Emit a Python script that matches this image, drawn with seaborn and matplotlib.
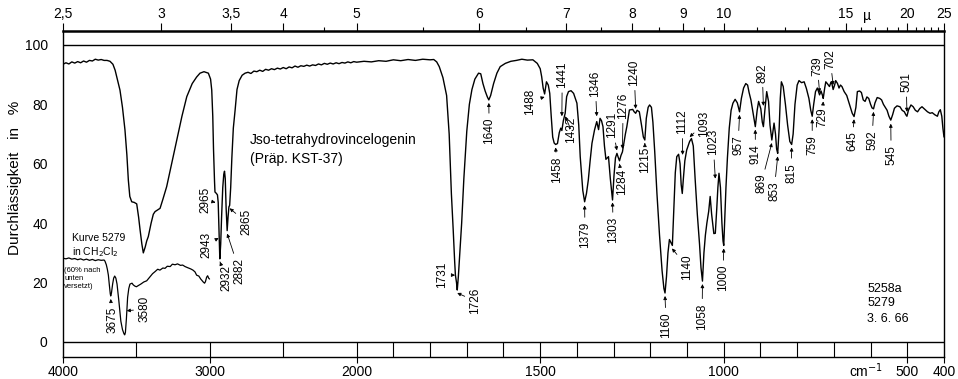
import numpy as np
import pandas as pd
import seaborn as sns
import matplotlib.pyplot as plt

# IR spectrum, wavenumber (cm-1) vs. transmission (%)
main_wn = [4000, 3980, 3960, 3940, 3920, 3900, 3880, 3860, 3840, 3820, 3800, 3780, 3760, 3740,
           3720, 3700, 3680, 3660, 3645, 3630, 3612, 3595, 3578, 3565, 3555, 3545, 3532, 3515,
           3498, 3485, 3475, 3463, 3453, 3440, 3430, 3419, 3400, 3385, 3373, 3355, 3339, 3320,
           3294, 3260, 3225, 3190, 3157, 3120, 3090, 3067, 3040, 3010, 2995, 2987, 2980, 2975,
           2968, 2965, 2955, 2948, 2943, 2938, 2932, 2926, 2920, 2912, 2905, 2900, 2895, 2889,
           2882, 2876, 2870, 2865, 2858, 2850, 2840, 2828, 2815, 2800, 2780, 2760, 2740, 2720,
           2700, 2680, 2660, 2640, 2620, 2600, 2580, 2560, 2540, 2520, 2500, 2480, 2460, 2440,
           2420, 2400, 2380, 2360, 2340, 2320, 2300, 2280, 2260, 2240, 2220, 2200, 2180, 2160,
           2140, 2120, 2100, 2080, 2060, 2040, 2020, 2000, 1980, 1960, 1940, 1920, 1900, 1880,
           1860, 1840, 1820, 1800, 1790, 1782, 1775, 1765, 1755, 1748, 1742, 1737, 1733, 1731,
           1728, 1726, 1723, 1719, 1714, 1708, 1700, 1693, 1686, 1678, 1668, 1662, 1656, 1650,
           1644, 1640, 1635, 1627, 1618, 1609, 1595, 1580, 1565, 1550, 1535, 1520, 1508, 1500,
           1496, 1492, 1488, 1483, 1478, 1474, 1470, 1466, 1462, 1458, 1453, 1448, 1444, 1441,
           1437, 1432, 1428, 1423, 1416, 1409, 1400, 1395, 1391, 1384, 1379, 1374, 1369, 1364,
           1359, 1352, 1346, 1341, 1337, 1333, 1329, 1325, 1321, 1314, 1309, 1303, 1299, 1295,
           1291, 1287, 1284, 1280, 1276, 1272, 1268, 1264, 1257, 1248, 1244, 1240, 1236, 1230,
           1224, 1219, 1215, 1211, 1206, 1202, 1197, 1193, 1188, 1182, 1175, 1168, 1163, 1160,
           1156, 1152, 1148, 1144, 1140, 1136, 1132, 1128, 1123, 1119, 1116, 1113, 1110, 1106,
           1101, 1097, 1093, 1088, 1083, 1078, 1072, 1066, 1062, 1058, 1054, 1050, 1046, 1041,
           1037, 1033, 1027, 1023, 1019, 1016, 1013, 1009, 1005, 1002, 1000, 997, 994, 990,
           985, 980, 975, 969, 963, 957, 952, 946, 940, 935, 931, 926, 920, 914, 909, 905,
           899, 895, 892, 888, 883, 878, 874, 869, 866, 863, 859, 856, 853, 849, 846, 843,
           838, 832, 826, 820, 815, 811, 806, 800, 795, 788, 781, 775, 768, 763, 759, 755,
           750, 745, 741, 739, 735, 731, 729, 725, 722, 718, 712, 708, 705, 702, 698, 695,
           690, 686, 682, 678, 672, 665, 660, 655, 650, 645, 640, 636, 630, 625, 620, 615,
           610, 605, 600, 596, 592, 588, 582, 575, 570, 565, 560, 555, 550, 545, 540, 535,
           528, 520, 514, 508, 504, 501, 497, 490, 484, 478, 472, 466, 460, 452, 445, 438,
           432, 425, 418, 414, 410, 406, 403, 400]
main_T = [93.5, 94.0, 93.6, 94.3, 93.9, 94.4, 94.0, 94.6, 94.2, 94.8, 94.6, 95.2, 94.9, 95.1,
          94.8, 94.8, 94.5, 93.5, 91.5, 88.5, 84.8, 79.0, 71.4, 63.0, 54.5, 49.0, 47.2, 47.0,
          46.5, 42.0, 37.7, 33.0, 30.0, 32.0, 34.0, 35.5, 40.0, 43.0, 43.9, 44.5, 45.0, 48.0,
          52.3, 60.0, 68.0, 76.0, 82.6, 87.0, 89.2, 90.5, 91.0, 90.5, 88.5, 84.8, 76.0, 65.0,
          54.0, 50.5, 50.0, 49.5, 47.0, 38.0, 28.0, 33.0, 42.0, 52.0, 56.5, 57.5, 55.0, 45.0,
          37.5, 42.0, 45.5, 46.0, 52.0, 62.0, 72.0, 78.0, 85.0, 88.0, 89.8, 90.5, 90.8, 90.4,
          91.2, 91.0, 91.5, 91.1, 91.8, 91.5, 92.0, 91.7, 92.2, 91.9, 92.4, 92.0, 92.6, 92.3,
          92.9, 92.5, 93.0, 92.8, 93.2, 92.9, 93.3, 93.1, 93.6, 93.3, 93.8, 93.5, 93.9, 93.6,
          94.0, 93.7, 94.1, 93.9, 94.3, 94.0, 94.4, 94.2, 94.5, 94.3, 94.7, 94.5, 95.0, 94.7,
          95.1, 94.8, 95.2, 95.0, 95.1, 94.3, 92.7, 89.0, 83.0, 70.0, 50.0, 37.7, 27.0, 22.5,
          20.0, 17.5, 22.0, 30.0, 40.0, 55.0, 71.0, 80.0, 85.0, 88.5, 90.5, 90.3, 87.0, 84.5,
          82.5, 81.5, 83.0, 87.0, 90.5, 92.7, 93.8, 94.5, 94.8, 95.2, 94.9, 95.0, 93.8, 92.0,
          89.3, 85.5, 83.5, 87.6, 86.5, 83.7, 76.0, 69.0, 67.0, 66.5, 66.8, 70.5, 72.0, 71.2,
          74.5, 77.0, 82.6, 84.3, 84.6, 83.7, 80.4, 73.0, 62.4, 51.0, 47.2, 50.0, 54.5, 61.0,
          66.9, 71.4, 74.2, 71.5, 75.3, 74.5, 72.5, 66.0, 61.5, 62.4, 55.0, 47.8, 56.0, 62.0,
          63.5, 62.0, 61.0, 62.8, 64.0, 67.0, 70.0, 72.5, 78.1, 78.3, 77.5, 77.0, 78.0, 77.5,
          73.0, 69.0, 68.0, 75.3, 79.0, 79.8, 79.0, 74.0, 64.0, 50.0, 36.0, 24.0, 18.0, 16.5,
          22.0, 30.0, 34.5, 33.5, 32.5, 45.0, 57.0, 62.4, 63.2, 60.0, 53.0, 50.0, 55.0, 61.0,
          64.6, 66.0, 67.5, 68.5, 66.0, 55.0, 43.0, 33.0, 25.0, 20.5, 30.0, 36.0, 40.0, 44.0,
          49.0, 43.0, 36.5, 36.6, 45.0, 52.0, 56.8, 52.0, 40.0, 34.0, 32.5, 42.0, 52.0, 62.0,
          72.0, 78.0, 80.4, 81.7, 80.5, 77.5, 82.0, 85.5, 87.0, 86.5, 84.0, 81.5, 77.0, 72.5,
          78.0, 81.0, 78.5, 74.0, 72.5, 78.0, 84.3, 81.0, 73.0, 68.0, 71.0, 73.7, 70.0, 65.0,
          63.5, 72.0, 82.0, 87.6, 86.0, 80.0, 73.0, 67.5, 66.5, 70.0, 80.0, 86.5, 88.0, 87.3,
          87.6, 85.4, 82.0, 78.0, 76.0, 80.0, 84.3, 85.5, 84.0, 83.2, 84.5, 83.0, 82.0, 85.5,
          87.6, 87.0, 86.0, 87.5, 86.8, 85.0, 86.5, 88.0, 87.0, 85.5, 86.5, 86.0, 84.3, 83.0,
          81.0, 79.0, 77.0, 75.9, 79.0, 84.3, 84.5, 84.0, 81.5, 81.0, 82.5, 82.0, 80.0, 78.8,
          78.5, 80.5, 82.3, 82.0, 81.5, 80.0, 79.0, 78.0, 76.0, 74.7, 76.5, 78.7, 79.5, 79.2,
          78.0, 77.5, 76.5, 76.0, 78.0, 79.8, 79.2, 78.0, 77.5, 78.6, 79.2, 78.3, 77.5, 77.0,
          77.2, 76.5, 76.0, 77.5, 78.2, 76.0, 72.0, 69.0]

# Kurve 5279 in CH2Cl2 (shifted down by 60 %)
ref_wn = [4000, 3980, 3960, 3940, 3920, 3900, 3880, 3860, 3840, 3820, 3800, 3780, 3760, 3740,
          3720, 3714, 3705, 3698, 3691, 3684, 3678, 3675, 3670, 3662, 3655, 3648, 3640, 3632,
          3620, 3606, 3595, 3585, 3580, 3575, 3568, 3560, 3552, 3544, 3530, 3521, 3510, 3500,
          3487, 3470, 3450, 3430, 3410, 3390, 3373, 3355, 3340, 3320, 3305, 3290, 3270, 3255,
          3237, 3220, 3200, 3185, 3169, 3150, 3130, 3115, 3101, 3090, 3075, 3062, 3055, 3045,
          3036, 3030, 3022, 3015, 3008, 3002]
ref_T = [28.2, 28.0, 28.3, 27.9, 28.1, 27.7, 28.0, 27.6, 27.9, 27.5, 27.8, 27.4, 27.7, 27.5,
         27.6, 27.2, 26.0, 24.5, 22.5, 19.0, 16.2, 15.5, 16.5, 19.5, 21.5, 22.2, 21.5, 19.5,
         14.0, 7.0, 4.2, 2.8, 2.4, 3.2, 8.0, 15.0, 18.0, 19.5, 19.8, 19.2, 18.8, 18.6,
         19.0, 19.5, 20.2, 20.6, 21.8, 23.0, 23.7, 24.5, 24.2, 24.9, 24.8, 25.5, 25.4, 26.2,
         26.0, 26.3, 25.8, 25.9, 25.4, 25.0, 24.6, 24.2, 23.6, 22.5, 22.2, 21.2, 20.8, 20.2,
         19.8, 20.3, 21.8, 22.3, 21.5, 21.2]

bottom_ticks = [4000, 3000, 2000, 1500, 1000, 500, 400]
divider_wn = [3500, 3000, 2500, 2000, 1900, 1800, 1700, 1600, 1500, 1400, 1300, 1200, 1100,
              1000, 900, 800, 700, 600, 500]
micron_major = [2.5, 3, 3.5, 4, 5, 6, 7, 8, 9, 10, 15, 20, 25]
micron_labels = ["2,5", "3", "3,5", "4", "5", "6", "7", "8", "9", "10", "15", "20", "25"]
micron_minor = [4.5, 5.5, 6.5, 7.5, 8.5, 9.5, 11, 12, 13, 14, 16, 17, 18, 19, 21, 22, 23, 24]
y_ticks = [0, 20, 40, 60, 80, 100]

# band labels and the point of the curve each one marks
peak_labels = ["3675", "3580", "2965", "2943", "2932", "2882", "2865", "1731", "1726", "1640",
               "1488", "1441", "1458", "1432", "1379", "1346", "1303", "1291", "1284", "1276",
               "1240", "1215", "1160", "1140", "1112", "1093", "1058", "1023", "1000", "957",
               "914", "892", "869", "853", "815", "759", "739", "729", "702", "645", "592",
               "545", "501"]
peak_wn = [3675, 3566, 2962, 2940, 2931, 2882, 2865, 1732, 1726, 1640,
           1488, 1441, 1458, 1432, 1379, 1346, 1303, 1291, 1284, 1276,
           1240, 1215, 1160, 1141, 1112, 1093, 1058, 1023, 1000, 957,
           914, 892, 869, 853, 815, 759, 739, 729, 702, 645, 592,
           545, 501]
peak_T = [14.5, 10.5, 47.0, 35.0, 27.0, 36.5, 45.0, 22.5, 16.5, 80.5,
          82.5, 76.0, 65.5, 76.0, 46.0, 76.0, 47.0, 64.5, 60.0, 65.0,
          78.5, 67.0, 15.5, 31.5, 63.0, 69.0, 19.5, 55.0, 31.5, 76.5,
          71.5, 79.5, 67.0, 62.5, 65.5, 75.0, 84.0, 81.0, 86.5, 75.0, 77.5,
          73.5, 77.5]

# where the rotated label texts sit (centre)
label_wn = [3666, 3448, 3033, 3025, 2890, 2798, 2753, 1767, 1677, 1639,
            1527, 1440, 1454, 1416, 1378, 1350, 1301, 1304, 1277, 1274,
            1244, 1214, 1157, 1100, 1113, 1053, 1059, 1029, 1002, 961,
            914, 895, 898, 863, 816, 759, 745, 732, 710, 650, 596,
            544, 503]
label_T = [7.5, 11.1, 47.8, 32.7, 21.5, 23.9, 40.4, 22.6, 13.8, 71.0,
           81.0, 89.9, 57.9, 71.4, 36.0, 87.0, 37.7, 73.0, 53.9, 79.6,
           90.7, 61.3, 5.7, 25.3, 74.2, 73.6, 8.6, 67.3, 21.5, 66.3,
           63.3, 90.6, 53.3, 50.8, 57.0, 66.3, 93.0, 75.6, 95.3, 67.5, 68.0,
           63.0, 87.4]

sns.set_theme(style="ticks", rc={"axes.edgecolor": "black", "text.color": "black",
                                 "axes.labelcolor": "black", "xtick.color": "black",
                                 "ytick.color": "black"})
plt.rcParams["font.family"] = ["Liberation Sans", "DejaVu Sans"]


# paper chart: 4000-2000 compressed, 2000-400 stretched 2.5x
def fwd(w):
    w = np.asarray(w, dtype=float)
    return np.where(w >= 2000, w, 2000 - (2000 - w) * 2.5)


def inv(p):
    p = np.asarray(p, dtype=float)
    return np.where(p >= 2000, p, 2000 - (2000 - p) / 2.5)


fig = plt.figure(figsize=(9.58, 3.79), dpi=100)
ax = fig.add_axes([63 / 958, 22 / 379, 881 / 958, 326 / 379])

df_main = pd.DataFrame({"wn": main_wn, "T": main_T})
df_ref = pd.DataFrame({"wn": ref_wn, "T": ref_T})
sns.lineplot(data=df_main, x="wn", y="T", ax=ax, color="black", lw=1.0, sort=False, estimator=None)
sns.lineplot(data=df_ref, x="wn", y="T", ax=ax, color="black", lw=0.9, sort=False, estimator=None)

ax.set_xscale("function", functions=(fwd, inv))
ax.set_xlim(4000, 400)
ax.set_ylim(-5.05, 104.7)

ax.axhline(100, color="black", lw=1.0)
ax.axhline(0, color="black", lw=1.0)
ax.vlines(divider_wn, -5.05, 0, color="black", lw=0.8)

for side in ["left", "right", "bottom"]:
    ax.spines[side].set_linewidth(1.0)
ax.spines["top"].set_linewidth(1.8)

ax.set_xticks(bottom_ticks)
ax.set_xticklabels([str(t) for t in bottom_ticks])
ax.tick_params(axis="x", direction="out", length=4, width=0.8, labelsize=10, pad=1.5)
ax.set_yticks(y_ticks)
ax.set_yticklabels([str(t) for t in y_ticks])
ax.tick_params(axis="y", length=0, pad=11, labelsize=10)
ax.set_xlabel("")
ax.set_ylabel("Durchlässigkeit   in   %", fontsize=11)
ax.yaxis.set_label_coords(-0.047, 0.55)

# wavelength scale (micron) on top
top = ax.twiny()
top.set_xscale("function", functions=(fwd, inv))
top.set_xlim(4000, 400)
top.set_xticks([10000 / m for m in micron_major])
top.set_xticklabels(micron_labels)
top.set_xticks([10000 / m for m in micron_minor], minor=True)
top.tick_params(axis="x", which="major", direction="out", length=6, width=0.8, labelsize=10, pad=1)
top.tick_params(axis="x", which="minor", direction="out", length=3, width=0.8)
for s in top.spines.values():
    s.set_visible(False)

ax.text(609, 1.025, "µ", transform=ax.get_xaxis_transform(), ha="center", va="bottom", fontsize=10)
ax.text(612, -0.015, "cm$^{-1}$", transform=ax.get_xaxis_transform(), ha="center", va="top", fontsize=10)

# band annotations
for lab, pw, pt, lw_, lt in zip(peak_labels, peak_wn, peak_T, label_wn, label_T):
    ax.annotate(lab, xy=(pw, pt), xytext=(lw_, lt), rotation=90, ha="center", va="center",
                fontsize=8.5,
                arrowprops=dict(arrowstyle="-|>", color="black", lw=0.6, mutation_scale=5,
                                shrinkA=1, shrinkB=0))

ax.text(2726, 70.5, "Jso-tetrahydrovincelogenin", fontsize=10, ha="left", va="top")
ax.text(2726, 64.0, "(Präp. KST-37)", fontsize=10, ha="left", va="top")
ax.text(3939, 36.7, "Kurve 5279", fontsize=7.5, ha="left", va="top")
ax.text(3939, 32.7, "in CH$_2$Cl$_2$", fontsize=7.5, ha="left", va="top")
ax.text(3995, 25.3, "(60% nach", fontsize=5.5, ha="left", va="top")
ax.text(3990, 22.6, "unten", fontsize=5.5, ha="left", va="top")
ax.text(3990, 19.9, "versetzt)", fontsize=5.5, ha="left", va="top")
ax.text(609, 19.9, "5258a", fontsize=9, ha="left", va="top")
ax.text(609, 15.2, "5279", fontsize=9, ha="left", va="top")
ax.text(609, 9.8, "3. 6. 66", fontsize=9, ha="left", va="top")

plt.savefig("out.png", dpi=100)
